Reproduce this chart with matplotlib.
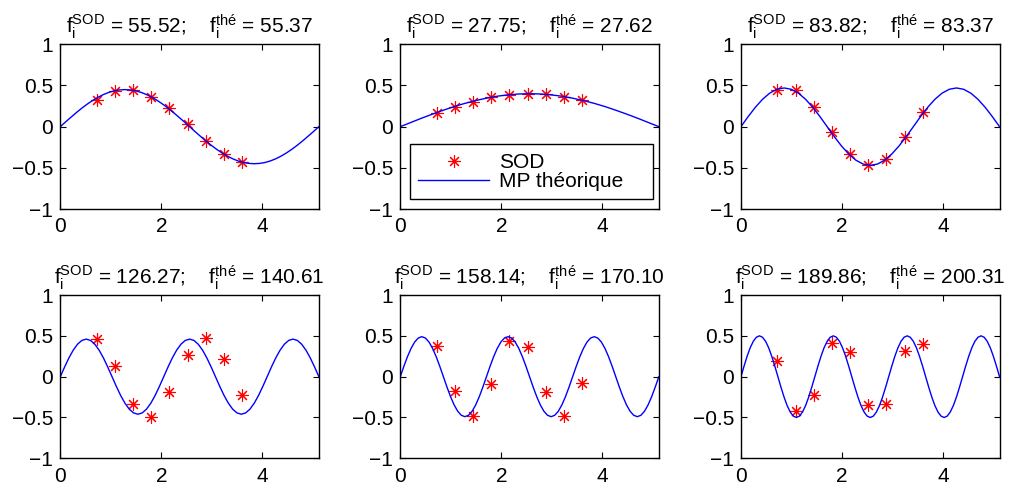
import numpy as np
import matplotlib
matplotlib.use("Agg")
import matplotlib.pyplot as plt

plt.rcParams['font.family'] = ['Liberation Sans', 'DejaVu Sans']
plt.rcParams['axes.unicode_minus'] = True

# --- donnees ---
L = 5.12
sensor_x = [0.72, 1.08, 1.44, 1.80, 2.16, 2.52, 2.88, 3.24, 3.60]

f_sod = [55.52, 27.75, 83.82, 126.27, 158.14, 189.86]
f_the = [55.37, 27.62, 83.37, 140.61, 170.10, 200.31]

# mesures SOD aux capteurs
sod_1 = [0.324, 0.433, 0.441, 0.364, 0.223, 0.032, -0.170, -0.332, -0.425]
sod_2 = [0.162, 0.235, 0.304, 0.356, 0.385, 0.397, 0.393, 0.364, 0.324]
sod_3 = [0.445, 0.445, 0.243, -0.065, -0.336, -0.466, -0.389, -0.121, 0.182]
sod_4 = [0.464, 0.127, -0.337, -0.489, -0.189, 0.271, 0.468, 0.222, -0.230]
sod_5 = [0.374, -0.181, -0.480, -0.090, 0.435, 0.366, -0.193, -0.480, -0.078]
sod_6 = [0.189, -0.415, -0.222, 0.411, 0.308, -0.345, -0.337, 0.312, 0.402]

# modes propres theoriques, echantillonnes regulierement sur [0, L]
mp_1 = [0, .059, .116, .172, .225, .274, .318, .357, .390, .416, .435, .446, .450,
        .446, .435, .416, .390, .357, .318, .274, .225, .172, .116, .059, 0,
        -.059, -.116, -.172, -.225, -.274, -.318, -.357, -.390, -.416, -.435, -.446, -.450,
        -.446, -.435, -.416, -.390, -.357, -.318, -.274, -.225, -.172, -.116, -.059, 0]
mp_2 = [0, .052, .104, .153, .200, .244, .283, .317, .346, .370, .386, .397, .400,
        .397, .386, .370, .346, .317, .283, .244, .200, .153, .104, .052, 0]
mp_3 = [0, .122, .235, .332, .407, .454, .470, .454, .407, .332, .235, .122, 0,
        -.122, -.235, -.332, -.407, -.454, -.470, -.454, -.407, -.332, -.235, -.122, 0,
        .122, .235, .332, .407, .454, .470, .454, .407, .332, .235, .122, 0]
mp_4 = [0, .119, .230, .325, .398, .444, .460, .444, .398, .325, .230, .119, 0,
        -.119, -.230, -.325, -.398, -.444, -.460, -.444, -.398, -.325, -.230, -.119, 0,
        .119, .230, .325, .398, .444, .460, .444, .398, .325, .230, .119, 0,
        -.119, -.230, -.325, -.398, -.444, -.460, -.444, -.398, -.325, -.230, -.119, 0,
        .119, .230, .325, .398, .444, .460, .444, .398, .325, .230, .119, 0]
mp_5 = [0, .127, .245, .346, .424, .473, .490, .473, .424, .346, .245, .127, 0,
        -.127, -.245, -.346, -.424, -.473, -.490, -.473, -.424, -.346, -.245, -.127, 0,
        .127, .245, .346, .424, .473, .490, .473, .424, .346, .245, .127, 0,
        -.127, -.245, -.346, -.424, -.473, -.490, -.473, -.424, -.346, -.245, -.127, 0,
        .127, .245, .346, .424, .473, .490, .473, .424, .346, .245, .127, 0,
        -.127, -.245, -.346, -.424, -.473, -.490, -.473, -.424, -.346, -.245, -.127, 0]
mp_6 = [0, .129, .250, .354, .433, .483, .500, .483, .433, .354, .250, .129, 0,
        -.129, -.250, -.354, -.433, -.483, -.500, -.483, -.433, -.354, -.250, -.129, 0,
        .129, .250, .354, .433, .483, .500, .483, .433, .354, .250, .129, 0,
        -.129, -.250, -.354, -.433, -.483, -.500, -.483, -.433, -.354, -.250, -.129, 0,
        .129, .250, .354, .433, .483, .500, .483, .433, .354, .250, .129, 0,
        -.129, -.250, -.354, -.433, -.483, -.500, -.483, -.433, -.354, -.250, -.129, 0,
        .129, .250, .354, .433, .483, .500, .483, .433, .354, .250, .129, 0]

sods = [sod_1, sod_2, sod_3, sod_4, sod_5, sod_6]
mps = [mp_1, mp_2, mp_3, mp_4, mp_5, mp_6]

xticks = [0, 2, 4]
yticks = [-1, -0.5, 0, 0.5, 1]
ytick_labels = ['\u22121', '\u22120.5', '0', '0.5', '1']

FS = 15

fig = plt.figure(figsize=(10.24, 4.87), dpi=100)

lefts = [0.0589, 0.3909, 0.7236]
rows = [(0.5708, 0.3382), (0.0589, 0.3353)]
W = 0.2525

for i in range(6):
    b, h = rows[i // 3]
    ax = fig.add_axes([lefts[i % 3], b, W, h])
    x_mp = np.linspace(0, L, len(mps[i]))
    ax.plot(sensor_x, sods[i], linestyle='none', marker=(8, 2, 0), markersize=9,
            markeredgecolor='red', markeredgewidth=0.8, label='SOD')
    ax.plot(x_mp, mps[i], color='blue', lw=1, label='MP théorique')
    ax.set_xlim(0, L)
    ax.set_ylim(-1, 1)
    ax.set_xticks(xticks)
    ax.set_xticklabels([str(t) for t in xticks])
    ax.set_yticks(yticks)
    ax.set_yticklabels(ytick_labels)
    ax.tick_params(direction='in', top=True, right=True, length=4, width=0.8,
                   labelsize=FS)
    ax.tick_params(axis='x', pad=6)
    ax.tick_params(axis='y', pad=5)
    for s in ax.spines.values():
        s.set_linewidth(1)
    ax.set_title(r'$\mathregular{f_i^{SOD}}$ = %.2f;    $\mathregular{f_i^{thé}}$ = %.2f'
                 % (f_sod[i], f_the[i]), fontsize=FS, pad=8)
    if i == 1:
        leg = ax.legend(loc='lower left', bbox_to_anchor=(0.037, 0.06, 0.939, 0.325),
                        mode='expand', borderaxespad=0, fancybox=False,
                        edgecolor='black', framealpha=1, handlelength=3.4,
                        handletextpad=0.5, numpoints=1, fontsize=FS,
                        labelspacing=0.0, borderpad=0.4)
        leg.get_frame().set_linewidth(1)

fig.savefig('out.png', dpi=100)
